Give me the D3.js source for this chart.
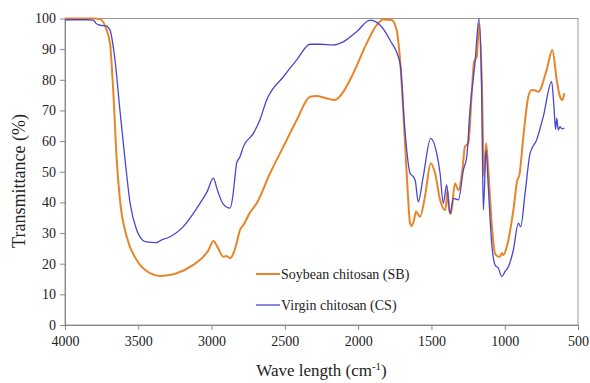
<!DOCTYPE html>
<html>
<head>
<meta charset="utf-8">
<script src="https://cdn.jsdelivr.net/npm/d3@7"></script>
<style>
  body { margin: 0; background: #fff; }
  svg text { font-family: "Liberation Serif", "Times New Roman", serif; fill: #222; }
</style>
</head>
<body>
<div id="chart"></div>
<script>
"use strict";

// Soybean chitosan (SB)
const sbWave = [4000, 3800, 3761, 3716, 3693, 3670, 3647, 3625, 3579, 3511, 3420, 3352, 3300, 3238, 3125, 3056, 3020, 2988, 2960, 2920, 2900, 2874, 2850, 2829, 2806, 2783, 2740, 2692, 2601, 2510, 2419, 2328, 2283, 2220, 2158, 2101, 2033, 1942, 1873, 1828, 1771, 1737, 1714, 1680, 1660, 1646, 1635, 1620, 1605, 1590, 1578, 1544, 1505, 1475, 1441, 1407, 1398, 1391, 1380, 1368, 1339, 1316, 1290, 1271, 1248, 1225, 1209, 1191, 1175, 1157, 1141, 1127, 1112, 1089, 1066, 1050, 1032, 1020, 1009, 986, 941, 914, 900, 873, 839, 816, 790, 771, 714, 675, 645, 623, 607, 593];
const sbT = [100, 100, 99.8, 96.2, 91.9, 75.6, 53.8, 40.8, 28.8, 21.2, 16.9, 16.0, 16.2, 16.9, 19.6, 22.3, 24.5, 27.4, 25.5, 22.3, 22.5, 21.8, 23.5, 26.7, 31, 32.6, 36.5, 39.7, 49.5, 58.2, 66.9, 74.5, 74.7, 74.0, 73.4, 76.1, 82.1, 91.9, 97.9, 99.7, 99.5, 96.2, 86.5, 59.3, 42, 33.2, 32.3, 34, 37, 36, 35.3, 41.9, 52.8, 49.5, 40.8, 37.5, 40, 44, 38, 36.2, 46.2, 44, 50, 58.2, 59.3, 75.6, 85.9, 87.5, 98.5, 81, 48.4, 59.3, 50.6, 33.2, 23.4, 22.5, 22.3, 23.5, 22.8, 25.5, 37.5, 47.3, 48.9, 61.4, 74.5, 76.7, 76.5, 76.1, 83.2, 89.7, 79.9, 74.5, 73.4, 75.6];

// Virgin chitosan (CS)
const csWave = [4000, 3850, 3807, 3790, 3760, 3720, 3693, 3659, 3625, 3590, 3556, 3511, 3480, 3454, 3374, 3340, 3306, 3193, 3079, 3030, 2988, 2960, 2924, 2874, 2855, 2840, 2829, 2806, 2783, 2715, 2670, 2624, 2510, 2419, 2328, 2260, 2169, 2101, 2010, 1919, 1851, 1783, 1714, 1680, 1646, 1624, 1610, 1590, 1556, 1505, 1464, 1441, 1419, 1396, 1373, 1350, 1316, 1282, 1259, 1237, 1203, 1175, 1157, 1146, 1127, 1112, 1089, 1066, 1043, 1020, 998, 975, 941, 907, 891, 861, 827, 782, 737, 680, 664, 653, 645, 634, 623, 610, 593];
const csT = [99.6, 99.6, 99.5, 98.5, 97.8, 97.6, 96.2, 86.5, 70, 53.8, 39.8, 31, 28.2, 27.2, 26.9, 27.8, 28.3, 32.1, 39.7, 43.5, 47.9, 44, 39.7, 38.1, 42, 48.4, 52.8, 54.9, 58.2, 62.5, 67, 73.4, 81, 86.5, 91.6, 91.6, 91.4, 92.4, 95.7, 99.5, 97.9, 93, 85.4, 63, 49.5, 48.4, 47, 40.2, 48.4, 60.9, 56, 49.5, 39.7, 45.7, 36.4, 41.3, 40.8, 50.6, 54.9, 70.1, 85.4, 100, 75.6, 37.5, 57.1, 45.1, 26.7, 19.6, 18.5, 15.8, 17.4, 19, 24.5, 33.2, 32.1, 43, 56, 60.4, 68, 79.4, 71.2, 63.8, 67.5, 63.6, 64.7, 64, 64.2];

const xTicks = [4000, 3500, 3000, 2500, 2000, 1500, 1000, 500];
const yTicks = [0, 10, 20, 30, 40, 50, 60, 70, 80, 90, 100];

const W = 590, H = 383;
const margin = { top: 18.5, right: 12, bottom: 58, left: 65 };

const svg = d3.select("#chart").append("svg")
    .attr("width", W)
    .attr("height", H);

const x = d3.scaleLinear().domain([4000, 500]).range([margin.left, W - margin.right]);
const y = d3.scaleLinear().domain([0, 100]).range([H - margin.bottom, margin.top]);

// frame (top / right)
svg.append("rect")
    .attr("x", x(4000)).attr("y", y(100))
    .attr("width", x(500) - x(4000)).attr("height", y(0) - y(100))
    .attr("fill", "none").attr("stroke", "#999").attr("stroke-width", 1);

// axes
const xAxis = svg.append("g")
    .attr("transform", `translate(0,${y(0)})`)
    .call(d3.axisBottom(x).tickValues(xTicks).tickFormat(d3.format("d"))
        .tickSize(5).tickSizeOuter(0).tickPadding(6));
const yAxis = svg.append("g")
    .attr("transform", `translate(${x(4000)},0)`)
    .call(d3.axisLeft(y).tickValues(yTicks).tickFormat(d3.format("d"))
        .tickSize(5).tickSizeOuter(0).tickPadding(4));

[xAxis, yAxis].forEach(g => {
    g.select(".domain").attr("stroke", "#888");
    g.selectAll(".tick line").attr("stroke", "#888");
    g.selectAll(".tick text").attr("font-size", 14).attr("fill", "#222")
        .style("font-family", "'Liberation Serif', serif");
});

// lines
const line = (wave, vals) => d3.line()
    .x((d, i) => x(wave[i]))
    .y(d => y(d))
    .curve(d3.curveMonotoneX)(vals);

svg.append("path")
    .attr("d", line(sbWave, sbT))
    .attr("fill", "none")
    .attr("stroke", "#E8842A")
    .attr("stroke-width", 2);

svg.append("path")
    .attr("d", line(csWave, csT))
    .attr("fill", "none")
    .attr("stroke", "#4A46CC")
    .attr("stroke-width", 1.3);

// legend
const legend = [
    { name: "Soybean chitosan (SB)", color: "#E8842A", w: 2, yy: 274 },
    { name: "Virgin chitosan (CS)", color: "#4A46CC", w: 1.3, yy: 305 }
];
legend.forEach(l => {
    svg.append("line")
        .attr("x1", 256).attr("x2", 280)
        .attr("y1", l.yy).attr("y2", l.yy)
        .attr("stroke", l.color).attr("stroke-width", l.w);
    svg.append("text")
        .attr("x", 281).attr("y", l.yy + 5)
        .attr("font-size", 14)
        .text(l.name);
});

// axis titles
const xt = svg.append("text")
    .attr("x", (x(4000) + x(500)) / 2)
    .attr("y", 376)
    .attr("text-anchor", "middle")
    .attr("font-size", 17);
xt.append("tspan").text("Wave length (cm");
xt.append("tspan").attr("font-size", 11).attr("dy", -6).text("-1");
xt.append("tspan").attr("dy", 6).text(")");

svg.append("text")
    .attr("transform", `translate(25,181) rotate(-90)`)
    .attr("text-anchor", "middle")
    .attr("font-size", 18)
    .text("Transmittance (%)");
</script>
</body>
</html>
